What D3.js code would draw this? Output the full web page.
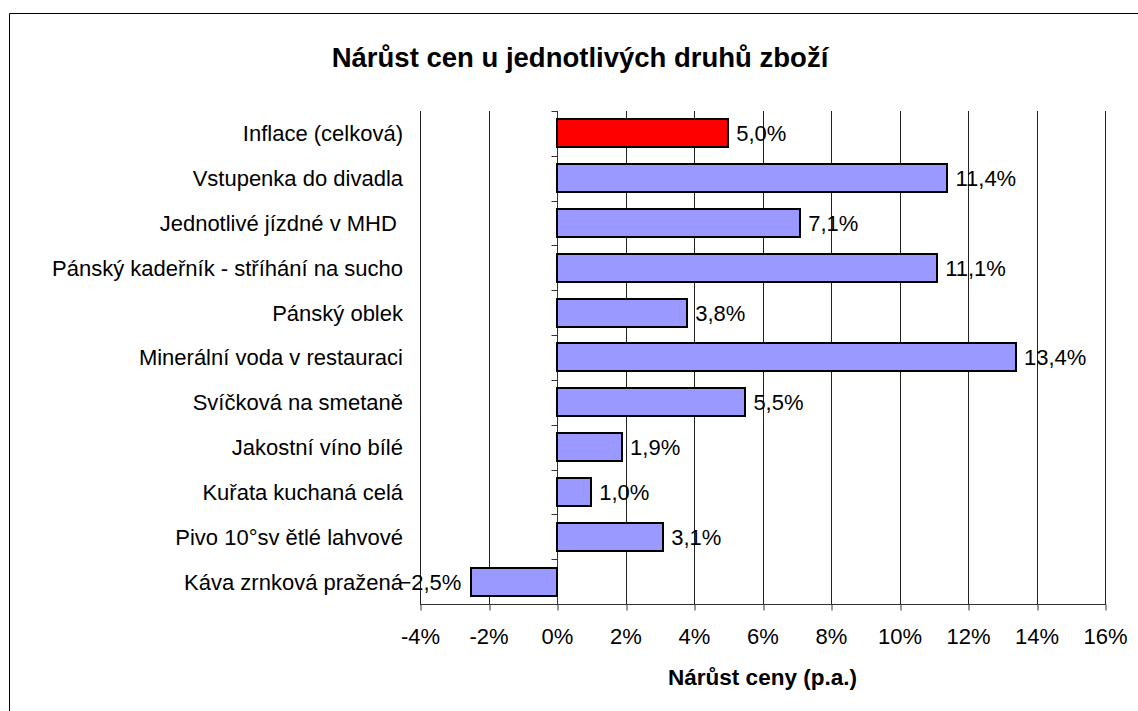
<!DOCTYPE html>
<html>
<head>
<meta charset="utf-8">
<script src="https://cdn.jsdelivr.net/npm/d3@7"></script>
<style>
  html, body { margin: 0; padding: 0; background: #fff; }
  svg { display: block; }
  text { font-family: "Liberation Sans", Arial, sans-serif; fill: #000; white-space: pre; }
</style>
</head>
<body>
<svg id="chart" width="1138" height="711"></svg>
<script>
const categories = [
  "Inflace (celková)",
  "Vstupenka do divadla",
  "Jednotlivé jízdné v MHD ",
  "Pánský kadeřník - stříhání na sucho",
  "Pánský oblek",
  "Minerální voda v restauraci",
  "Svíčková na smetaně",
  "Jakostní víno bílé",
  "Kuřata kuchaná celá",
  "Pivo 10°sv ětlé lahvové",
  "Káva zrnková pražená"
];
const values = [5.0, 11.4, 7.1, 11.1, 3.8, 13.4, 5.5, 1.9, 1.0, 3.1, -2.5];
const highlighted = ["Inflace (celková)"];
const xTicks = [-4, -2, 0, 2, 4, 6, 8, 10, 12, 14, 16];
const titleText = "Nárůst cen u jednotlivých druhů zboží";
const xAxisTitle = "Nárůst ceny (p.a.)";

const svg = d3.select("#chart");
const W = 1138, H = 711;
const plot = { left: 420, right: 1105, top: 111, bottom: 604 };

svg.append("rect").attr("width", W).attr("height", H).attr("fill", "#fff");
svg.append("path").attr("d", `M9.5,${H} V13.5 H${W}`).attr("fill", "none").attr("stroke", "#000").attr("stroke-width", 1);

const x = d3.scaleLinear().domain([-4, 16]).range([plot.left, plot.right]);
const y = d3.scaleBand().domain(categories).range([plot.top, plot.bottom]).paddingInner(0.33).paddingOuter(0.165);
const step = y.step();
const px = v => Math.round(x(v)) + 0.5;

const fmt = v => d3.format(".1f")(v).replace(".", ",") + "%";
const fmtTick = v => v + "%";

svg.append("text").attr("x", 580).attr("y", 67).attr("text-anchor", "middle")
  .attr("font-size", 27.5).attr("font-weight", "bold").text(titleText);

// gridlines
svg.append("g").selectAll("line").data(xTicks.filter(d => d !== 0)).join("line")
  .attr("x1", d => px(d)).attr("x2", d => px(d))
  .attr("y1", plot.top).attr("y2", plot.bottom)
  .attr("stroke", "#222").attr("stroke-width", 1);

// x axis
const xAxis = d3.axisBottom(x).tickValues(xTicks).tickFormat(fmtTick).tickSize(6).tickPadding(10);
const gx = svg.append("g").attr("transform", `translate(0,${plot.bottom + 0.5})`).call(xAxis);
gx.select(".domain").attr("stroke", "#333").attr("d", `M${plot.left},0H${plot.right + 1}`);
gx.selectAll(".tick line").attr("stroke", "#333").attr("transform", d => `translate(${px(d) - x(d)},0)`);
gx.selectAll(".tick text").attr("font-size", 22).attr("font-family", "Liberation Sans, Arial, sans-serif").attr("fill", "#000").attr("dy", "1.05em");

svg.append("text").attr("x", (plot.left + plot.right) / 2).attr("y", 685).attr("text-anchor", "middle")
  .attr("font-size", 22.5).attr("font-weight", "bold").text(xAxisTitle);

// y axis at zero with ticks at band boundaries
const x0 = px(0);
const bounds = categories.map(c => y(c) - step * y.paddingInner() / 2).concat([plot.bottom]);
const gy = svg.append("g");
gy.append("line").attr("x1", x0).attr("x2", x0).attr("y1", plot.top).attr("y2", plot.bottom).attr("stroke", "#333");
gy.selectAll("line.t").data(bounds).join("line").attr("class", "t")
  .attr("x1", x0 - 6).attr("x2", x0).attr("y1", d => Math.round(d) + 0.5).attr("y2", d => Math.round(d) + 0.5)
  .attr("stroke", "#333");

// bars
const data = categories.map((c, i) => ({ cat: c, v: values[i] }));
svg.append("g").selectAll("rect").data(data).join("rect")
  .attr("x", d => Math.round(Math.min(x(0), x(d.v))))
  .attr("width", d => Math.round(Math.max(x(0), x(d.v))) - Math.round(Math.min(x(0), x(d.v))))
  .attr("y", d => Math.round(y(d.cat) + 1))
  .attr("height", Math.round(y.bandwidth() - 2))
  .attr("fill", d => highlighted.includes(d.cat) ? "#FF0000" : "#9999FF")
  .attr("stroke", "#000").attr("stroke-width", 2);

// category labels
svg.append("g").selectAll("text").data(categories).join("text")
  .attr("x", 403).attr("y", d => y(d) + y.bandwidth() / 2).attr("dy", "0.36em")
  .attr("text-anchor", "end").attr("font-size", 22).text(d => d);

// value labels
svg.append("g").selectAll("text").data(data).join("text")
  .attr("x", d => d.v >= 0 ? x(d.v) + 8 : x(d.v) - 10)
  .attr("y", d => y(d.cat) + y.bandwidth() / 2).attr("dy", "0.36em")
  .attr("text-anchor", d => d.v >= 0 ? "start" : "end")
  .attr("font-size", 22).text(d => fmt(d.v));
</script>
</body>
</html>
